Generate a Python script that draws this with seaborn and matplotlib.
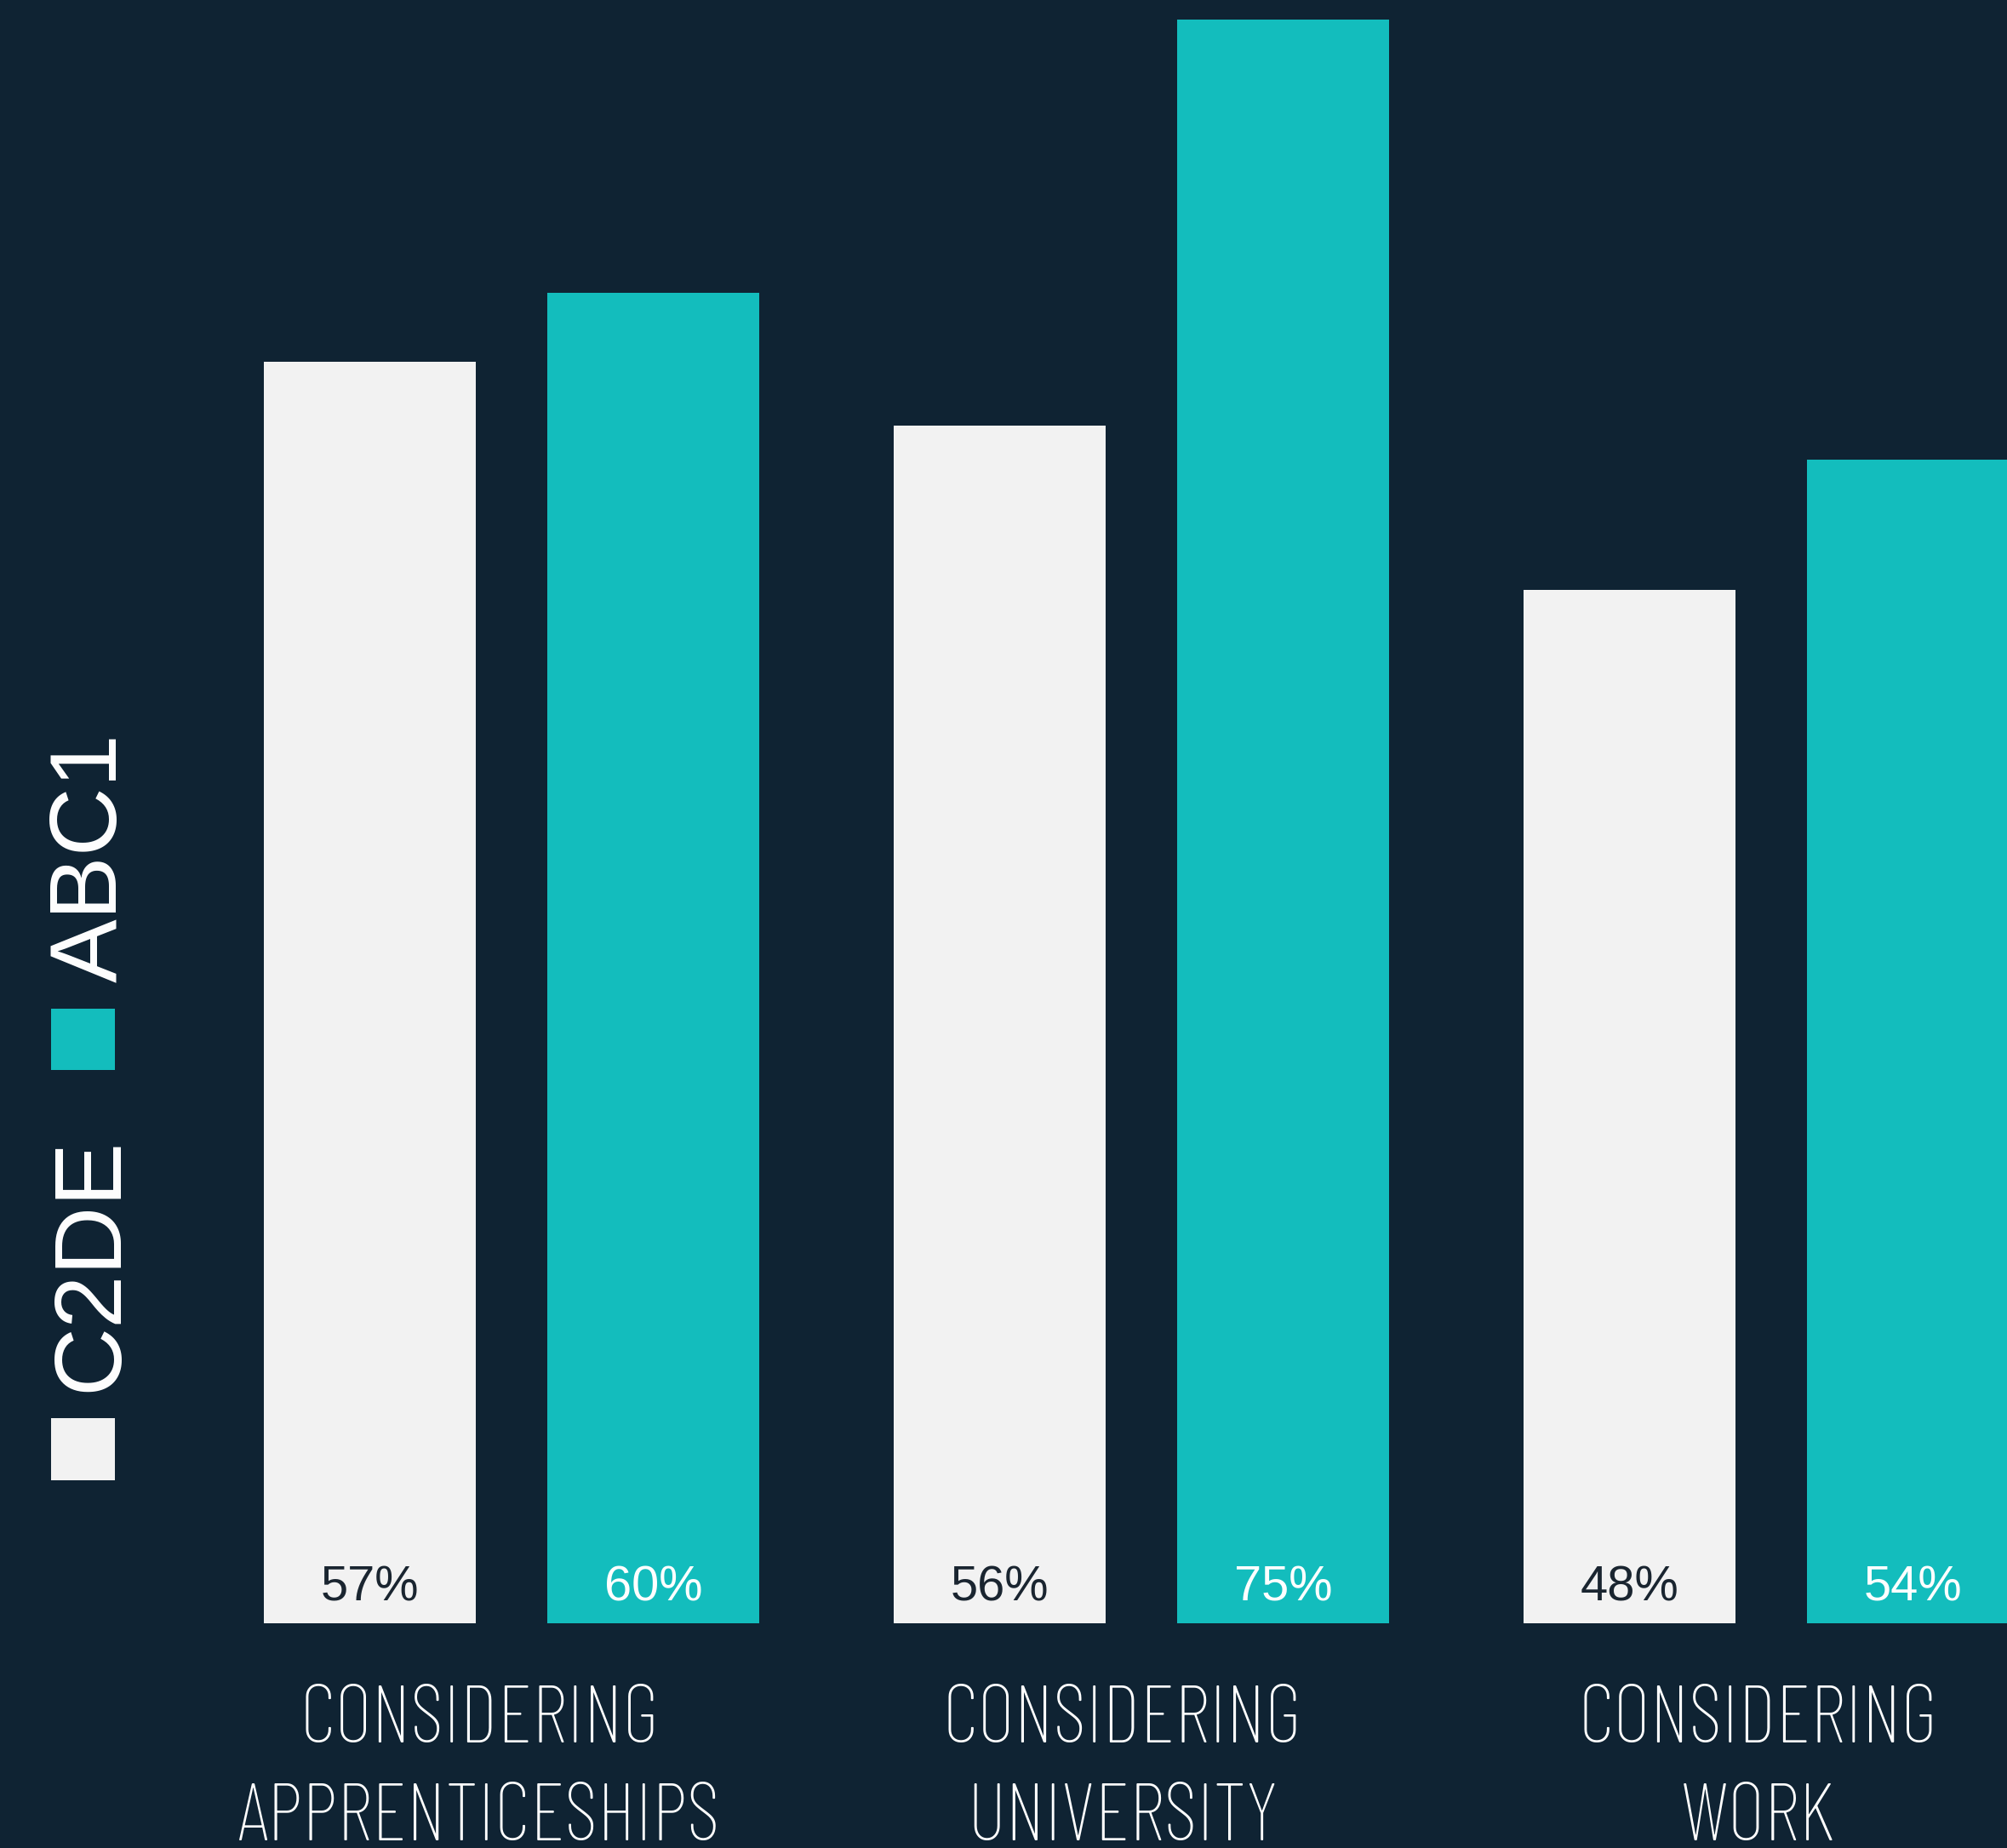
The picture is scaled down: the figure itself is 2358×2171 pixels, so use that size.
import numpy as np
import pandas as pd
import matplotlib
matplotlib.use("Agg")
import matplotlib.pyplot as plt
import seaborn as sns
from matplotlib import font_manager as fm
from matplotlib.patches import Rectangle
from matplotlib.transforms import blended_transform_factory

# ---------------- data ----------------
categories = ["CONSIDERING\nAPPRENTICESHIPS", "CONSIDERING\nUNIVERSITY", "CONSIDERING\nWORK"]
groups = ["C2DE", "ABC1"]
c2de_labels = ["57%", "56%", "48%"]
abc1_labels = ["60%", "75%", "54%"]
# bar heights as drawn in the picture
c2de_bar = [59.0, 56.0, 48.3]
abc1_bar = [62.2, 75.0, 54.4]

# ---------------- style ----------------
BG = "#0F2333"
WHITE = "#F2F2F2"
TEAL = "#13BDBD"
DARK_TXT = "#1A2530"
W, H, DPI = 2358, 2171, 100

sns.set_theme(style="white")
plt.rcParams["font.family"] = ["Liberation Sans", "DejaVu Sans"]


def wnum(f):
    w = f.weight
    if isinstance(w, str):
        w = fm.weight_dict.get(w, 400)
    return int(w)


STRETCH_RANK = {"ultra-condensed": 0, "extra-condensed": 1, "condensed": 2, "semi-condensed": 3}


def condensed_font(target_weight):
    cands = []
    for f in fm.fontManager.ttflist:
        st = f.stretch if isinstance(f.stretch, str) else "normal"
        if st in STRETCH_RANK and f.style == "normal":
            cands.append((abs(wnum(f) - target_weight), STRETCH_RANK[st], f.fname))
    if cands:
        cands.sort()
        return cands[0][2]
    return None


def named_font(name_part, weight=400):
    c = [f for f in fm.fontManager.ttflist if name_part.lower() in f.name.lower() and f.style == "normal"]
    if not c:
        return None
    c.sort(key=lambda f: abs(wnum(f) - weight))
    return c[0].fname


cat_path = condensed_font(250)
if cat_path:
    cat_fp = fm.FontProperties(fname=cat_path)
else:
    cat_fp = fm.FontProperties(family="Roboto", weight="light")

narrow = named_font("Liberation Sans Narrow") or named_font("Arial Narrow")
val_fp = fm.FontProperties(fname=narrow) if narrow else fm.FontProperties(family="Liberation Sans")
leg_fp = fm.FontProperties(family="Liberation Sans")

# ---------------- figure ----------------
fig = plt.figure(figsize=(W / DPI, H / DPI), dpi=DPI, facecolor=BG)
ax = fig.add_axes([0, 0, 1, 1])
ax.set_facecolor(BG)

df = pd.DataFrame({
    "category": categories * 2,
    "group": [groups[0]] * 3 + [groups[1]] * 3,
    "value": c2de_bar + abc1_bar,
})

sns.barplot(data=df, x="category", y="value", hue="group", hue_order=groups,
            palette={"C2DE": WHITE, "ABC1": TEAL}, saturation=1,
            width=0.9, gap=0.25, dodge=True, legend=False, ax=ax,
            linewidth=0, errorbar=None)

# pixel mapping
x0_px, step_px = 601.0, 740.0
base_px_from_top, unit_px = 1906.7, 25.12
ax.set_xlim(-x0_px / step_px, (W - x0_px) / step_px)
ax.set_ylim(-(H - base_px_from_top) / unit_px, base_px_from_top / unit_px)
ax.set_axis_off()

renderer = fig.canvas.get_renderer()


def fit(t, target_w, max_pt, mode="min"):
    t.set_fontsize(max_pt)
    w = t.get_window_extent(renderer).width
    if w > target_w:
        if mode == "min":
            t.set_fontsize(max_pt * target_w / w)
        else:
            t.set_fontsize(max_pt * np.sqrt(target_w / w))
    return t.get_fontsize()


# value labels near the bar bottoms
label_sets = [c2de_labels, abc1_labels]
colors = [DARK_TXT, "white"]
vsize = None
for cont, labs, col in zip(ax.containers, label_sets, colors):
    for bar, lab in zip(cont, labs):
        xc = bar.get_x() + bar.get_width() / 2
        t = ax.text(xc, 1.06, lab, ha="center", va="baseline", color=col,
                    fontproperties=val_fp)
        if vsize is None:
            vsize = fit(t, 116, 51)
        t.set_fontsize(vsize)

# category labels (two lines each) below the bars
trans = blended_transform_factory(ax.transData, fig.transFigure)
line_y = [(H - 2047) / H, (H - 2162) / H]
label_shift = [-0.051, -0.030, -0.021]
csize = None
for i, cat in enumerate(categories):
    for j, line in enumerate(cat.split("\n")):
        t = ax.text(i + label_shift[i], line_y[j], line, ha="center", va="baseline",
                    color="white", fontproperties=cat_fp, transform=trans)
        if csize is None:
            csize = fit(t, 424, 69)
        t.set_fontsize(csize)

# rotated legend on the left
sq = [("C2DE", WHITE, 1666, 1739, 1485), ("ABC1", TEAL, 1185, 1257, 1007.5)]
lsize = None
for name, col, top, bot, ctr in sq:
    fig.add_artist(Rectangle((60 / W, (H - bot) / H), 75 / W, (bot - top) / H,
                             transform=fig.transFigure, facecolor=col, edgecolor="none"))
    t = fig.text(137 / W, (H - ctr) / H, name, rotation=90, rotation_mode="anchor",
                 ha="center", va="baseline", color="white", fontproperties=leg_fp)
    if lsize is None:
        tmp = fig.text(0, 0, name, fontproperties=leg_fp)
        lsize = fit(tmp, 294, 91, mode="sqrt") * 0.95
        tmp.remove()
    t.set_fontsize(lsize)

fig.savefig("out.png", dpi=DPI, facecolor=BG)
